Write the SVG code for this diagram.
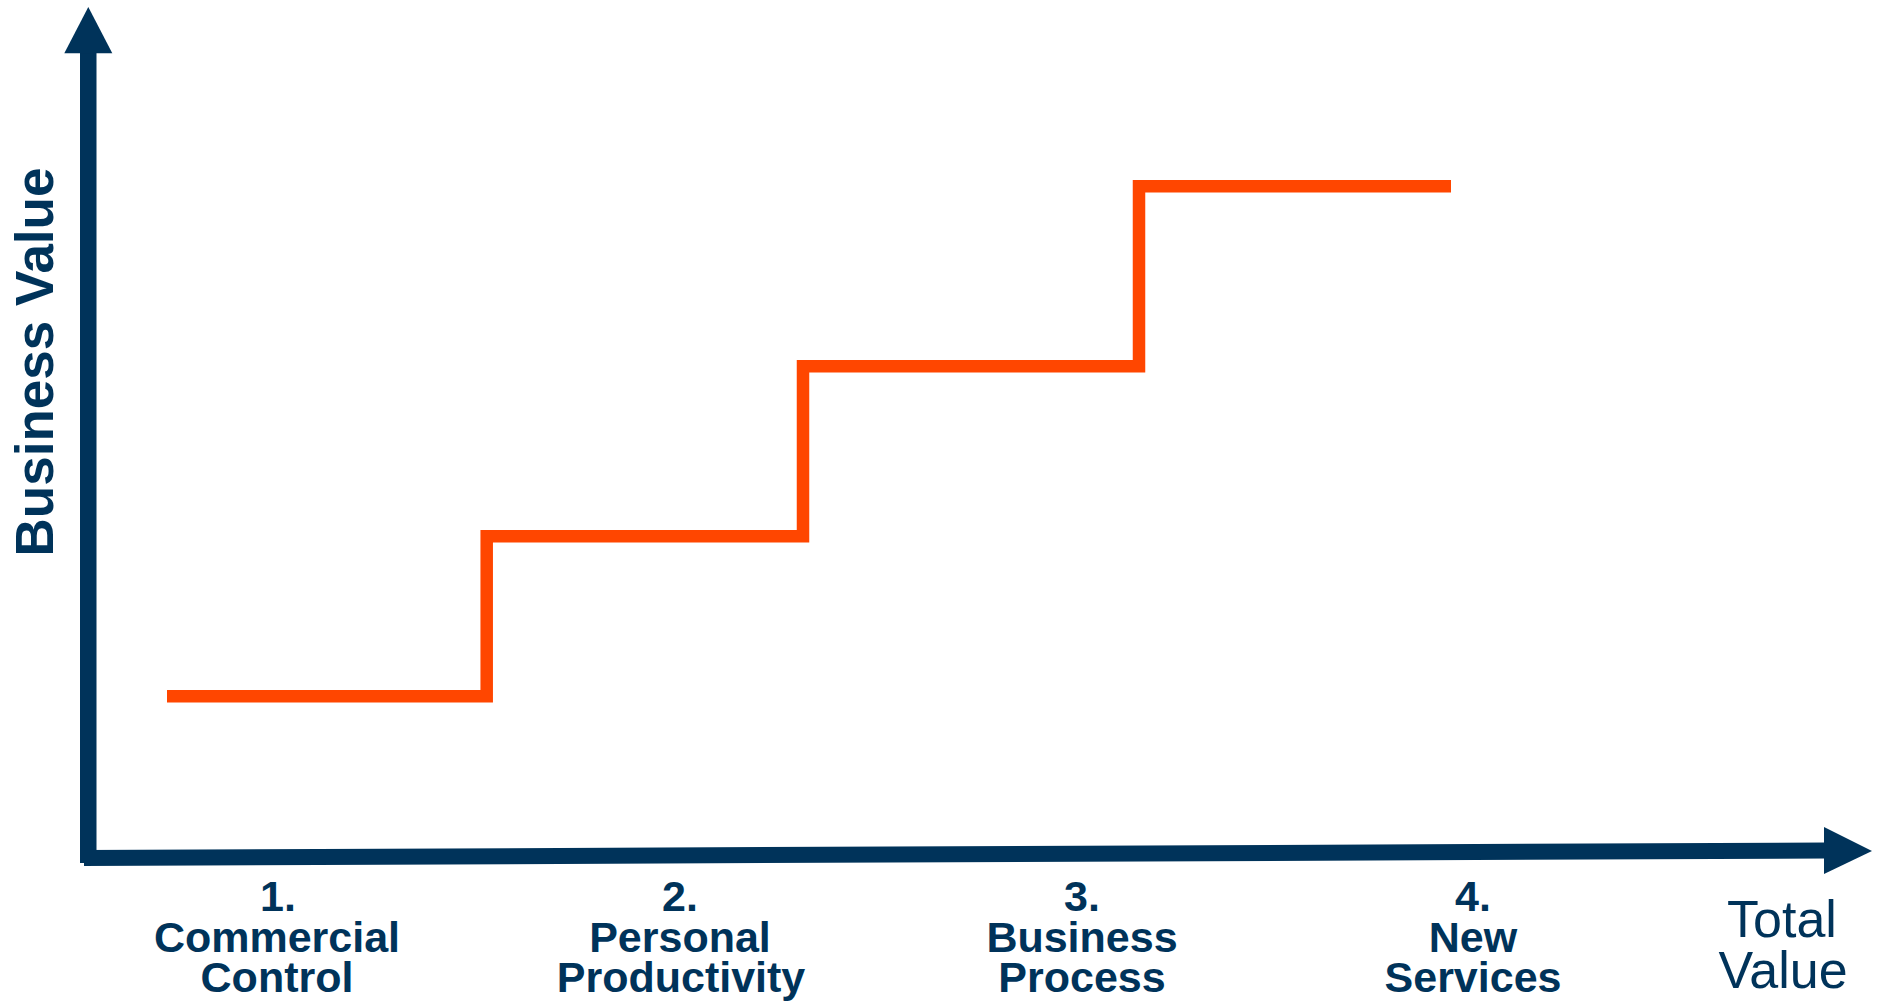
<svg xmlns="http://www.w3.org/2000/svg" width="1881" height="1002" viewBox="0 0 1881 1002">
  <style>
    .axis { fill: #00335A; }
    .shaft { stroke: #00335A; stroke-width: 16; fill: none; }
    .step { stroke: #FF4600; stroke-width: 12.5; fill: none; stroke-linejoin: miter; stroke-linecap: butt; }
    .lbl { font-family: "Liberation Sans", Arial, sans-serif; font-weight: bold; font-size: 43px; fill: #00335A; text-anchor: middle; }
    .ttl { font-family: "Liberation Sans", Arial, sans-serif; font-size: 52px; fill: #00335A; text-anchor: middle; }
    .yttl { font-family: "Liberation Sans", Arial, sans-serif; font-weight: bold; font-size: 53px; fill: #00335A; text-anchor: middle; }
  </style>
  <rect width="1881" height="1002" fill="#FFFFFF"/>

  <g id="connectors">
    <g id="y-axis">
      <rect class="axis" x="80" y="50" width="16.5" height="813"/>
      <polygon class="axis" points="88.3,7 64.3,53.3 112.3,53.3"/>
    </g>
    <g id="x-axis">
      <polygon class="axis" points="84,850 1826,842.5 1826,858.5 84,866"/>
      <polygon class="axis" points="1824,827 1872,851 1824,874"/>
    </g>
    <path id="steps" class="step" d="M167,696.3 H486.7 V536.3 H803 V366.2 H1139 V186.3 H1451"/>
  </g>

  <g id="y-title">
    <text class="yttl" transform="translate(53,362) rotate(-90)">Business Value</text>
  </g>

  <g id="stage-1">
    <text class="lbl" x="278" y="911">1.</text>
    <text class="lbl" x="277" y="952">Commercial</text>
    <text class="lbl" x="277" y="992">Control</text>
  </g>
  <g id="stage-2">
    <text class="lbl" x="680" y="911">2.</text>
    <text class="lbl" x="680" y="952">Personal</text>
    <text class="lbl" x="681" y="992">Productivity</text>
  </g>
  <g id="stage-3">
    <text class="lbl" x="1082" y="911">3.</text>
    <text class="lbl" x="1082" y="952">Business</text>
    <text class="lbl" x="1082" y="992">Process</text>
  </g>
  <g id="stage-4">
    <text class="lbl" x="1473" y="911">4.</text>
    <text class="lbl" x="1473" y="952">New</text>
    <text class="lbl" x="1473" y="992">Services</text>
  </g>
  <g id="x-title">
    <text class="ttl" x="1782" y="937">Total</text>
    <text class="ttl" x="1783" y="988">Value</text>
  </g>
</svg>
